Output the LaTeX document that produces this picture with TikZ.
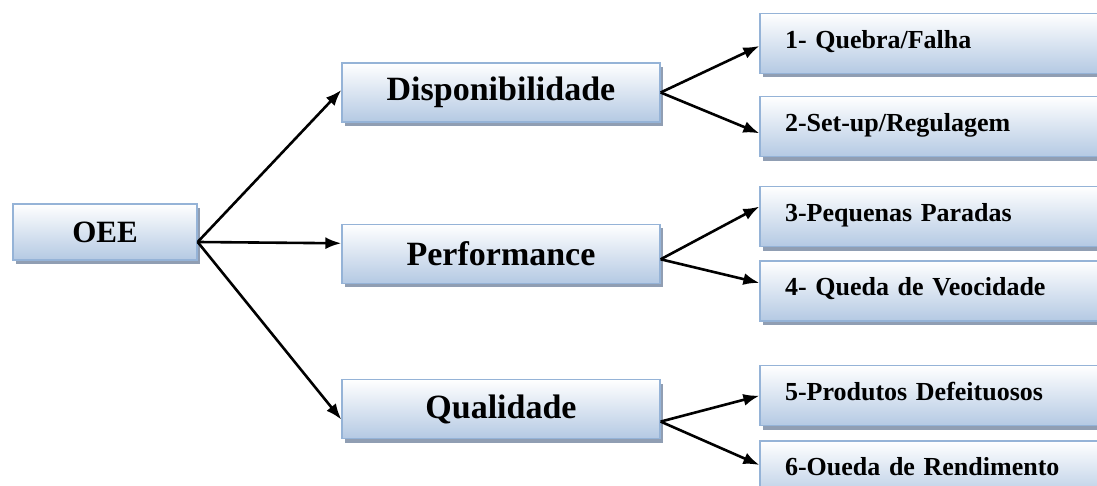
\documentclass[tikz,border=0pt]{standalone}
\usepackage{fontspec}
\setmainfont{Liberation Serif}
\usepackage{xcolor}
\usepackage{tikz}
\usetikzlibrary{arrows.meta}
\usetikzlibrary{shadows}
\usetikzlibrary{positioning}

\definecolor{boxblue}{HTML}{B4C9E3}
\definecolor{boxline}{HTML}{95B3D7}
\definecolor{boxshade}{HTML}{8494AB}

\begin{document}
\begin{tikzpicture}[x=1pt,y=1pt,-{Latex[length=16pt,width=12pt]},line width=2.6pt]
	\tikzstyle{every node}=[draw=boxline, line width=1.3pt, top color=white, bottom color=boxblue,
		drop shadow={shadow xshift=3pt, shadow yshift=-4pt, fill=boxshade, opacity=0.9},
		font=\bfseries, text=black]
	\tikzstyle{root}=[minimum width=184pt, minimum height=56pt, font=\bfseries\fontsize{31}{36}\selectfont]
	\tikzstyle{mid}=[minimum width=318pt, minimum height=59pt, font=\bfseries\fontsize{34}{40}\selectfont]
	\tikzstyle{leaf}=[text width=310pt, align=left, inner xsep=25pt, inner ysep=0pt,
		minimum height=60pt, text depth=9pt, font=\bfseries\fontsize{26}{30}\selectfont]
	\clip (0,0) rectangle (1097,486);
	\fill[white] (0,0) rectangle (1097,486);

	\node[root] (O) at (105,254) {OEE};

	\node[mid] (D) at (501,393.5) {Disponibilidade};
	\node[mid] (P) [below=101pt of D] {Performance};
	\node[mid] (Q) [below=95pt of P] {Qualidade};

	\node[leaf] (F1) at (940,442.5) {1- Quebra/Falha};
	\node[leaf] (F2) [below=22pt of F1] {2-Set-up/Regulagem};
	\node[leaf] (F3) [below=28.5pt of F2] {3-Pequenas Paradas};
	\node[leaf] (F4) [below=13pt of F3] {4- Queda de Veocidade};
	\node[leaf] (F5) [below=43.5pt of F4] {5-Produtos Defeituosos};
	\node[leaf] (F6) [below=14pt of F5] {6-Oueda de Rendimento};

	\path
		([yshift=-10pt]O.east) edge ([yshift=2.5pt]D.west)
		([yshift=-10pt]O.east) edge ([yshift=10.5pt]P.west)
		([yshift=-10pt]O.east) edge ([yshift=-10.5pt]Q.west)
		(D.east) edge ([yshift=-2.5pt]F1.west)
		(D.east) edge ([yshift=-6.5pt]F2.west)
		([yshift=-5.5pt]P.east) edge ([yshift=10pt]F3.west)
		([yshift=-5.5pt]P.east) edge ([yshift=8pt]F4.west)
		([yshift=-12.5pt]Q.east) edge (F5.west)
		([yshift=-12.5pt]Q.east) edge ([yshift=6pt]F6.west);

\end{tikzpicture}
\end{document}
